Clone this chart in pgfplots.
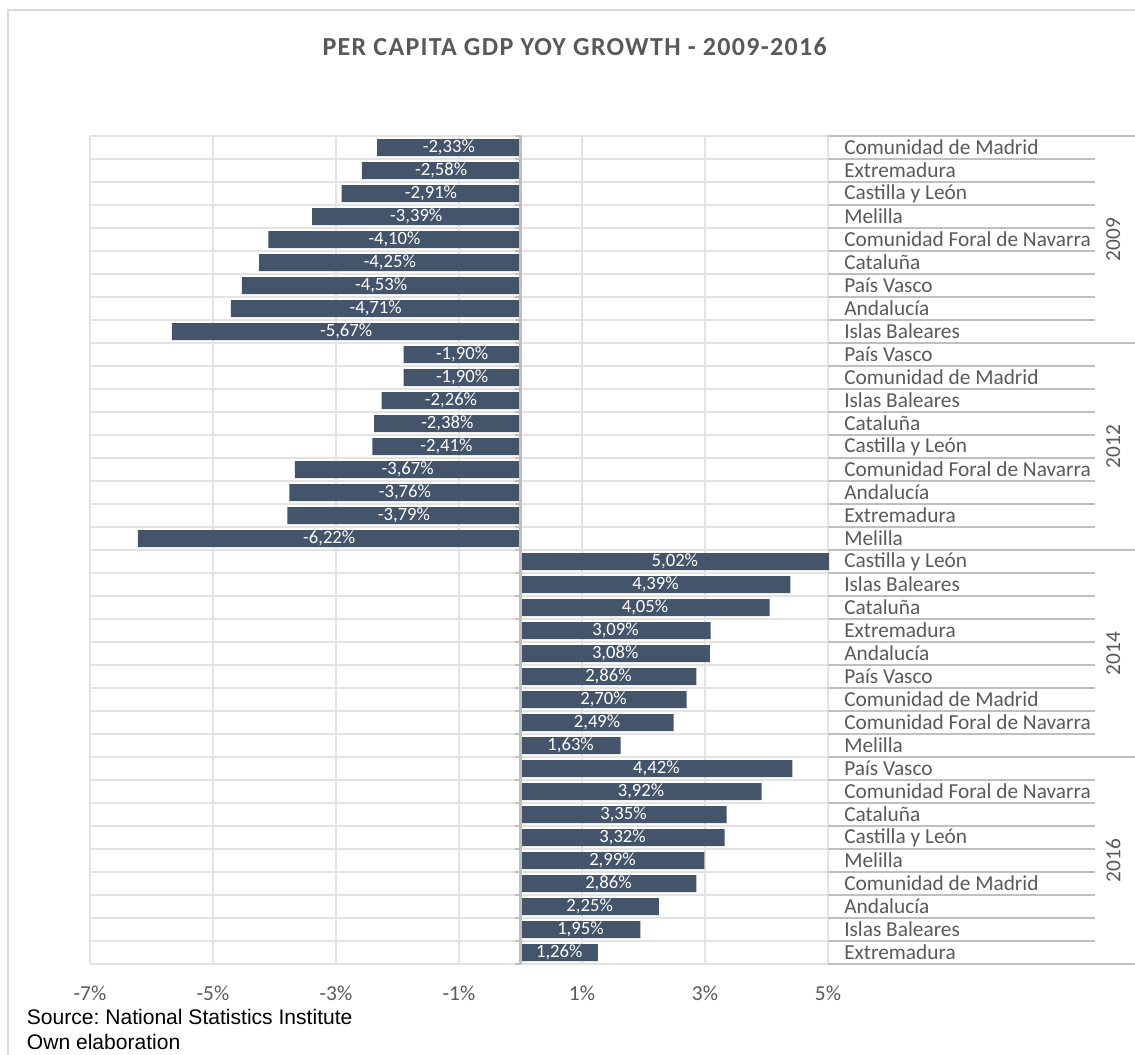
\documentclass[border=0pt]{standalone}
\usepackage{fontspec}
\setmainfont{Carlito}
\newfontfamily\arialf{Liberation Sans}
\usepackage{pgfplots}
\usepackage{pgfplotstable}
\pgfplotsset{compat=1.18}
\frenchspacing
\definecolor{barc}{HTML}{44546A}
\definecolor{txt}{HTML}{595959}
\definecolor{gridc}{HTML}{E3E3E3}
\definecolor{axl}{HTML}{BFBFBF}
\definecolor{frame}{HTML}{D9D9D9}

\pgfplotstableread{
r v
1 -2.33
2 -2.58
3 -2.91
4 -3.39
5 -4.10
6 -4.25
7 -4.53
8 -4.71
9 -5.67
10 -1.90
11 -1.90
12 -2.26
13 -2.38
14 -2.41
15 -3.67
16 -3.76
17 -3.79
18 -6.22
19 5.02
20 4.39
21 4.05
22 3.09
23 3.08
24 2.86
25 2.70
26 2.49
27 1.63
28 4.42
29 3.92
30 3.35
31 3.32
32 2.99
33 2.86
34 2.25
35 1.95
36 1.26
}\data

\begin{document}
\begin{tikzpicture}
\path[use as bounding box] (0,0) rectangle (851.25pt,-791.25pt);
\draw[frame, line width=1.5pt] (6pt,-791.25pt) |- (851.25pt,-7.5pt);
\node[text=txt, font=\fontsize{19.5}{22}\selectfont\bfseries\addfontfeatures{LetterSpace=5}] at (431pt,-35.25pt) {PER CAPITA GDP YOY GROWTH - 2009-2016};
\node[anchor=west, inner sep=0pt, font=\arialf\fontsize{15.8}{18}\selectfont] at (20pt,-763pt) {Source: National Statistics Institute};
\node[anchor=west, inner sep=0pt, font=\arialf\fontsize{15.8}{18}\selectfont] at (20pt,-781.5pt) {Own elaboration};
\begin{axis}[
  at={(67.5pt,-102pt)}, anchor=north west,
  scale only axis, width=553.5pt, height=621pt,
  xmin=-7, xmax=5, ymin=0.5, ymax=36.5, y dir=reverse,
  clip=false,
  axis line style={draw=none},
  /pgf/number format/assume math mode=true,
  xtick={-7,-5,-3,-1,1,3,5},
  xticklabel={\pgfmathprintnumber{\tick}\%},
  xticklabel style={text=txt, font=\fontsize{16}{18}\selectfont, yshift=-13pt},
  xmajorgrids, major grid style={gridc, line width=1.2pt},
  ytick={1,...,36},
  yticklabel pos=right,
  yticklabels={Comunidad de Madrid,Extremadura,Castilla y León,Melilla,Comunidad Foral de Navarra,Cataluña,País Vasco,Andalucía,Islas Baleares,
    País Vasco,Comunidad de Madrid,Islas Baleares,Cataluña,Castilla y León,Comunidad Foral de Navarra,Andalucía,Extremadura,Melilla,
    Castilla y León,Islas Baleares,Cataluña,Extremadura,Andalucía,País Vasco,Comunidad de Madrid,Comunidad Foral de Navarra,Melilla,
    País Vasco,Comunidad Foral de Navarra,Cataluña,Castilla y León,Melilla,Comunidad de Madrid,Andalucía,Islas Baleares,Extremadura},
  yticklabel style={anchor=west, inner sep=0pt, xshift=12pt, text=txt, font=\fontsize{16}{18}\selectfont},
  minor ytick={0.5,1.5,...,36.5},
  yminorgrids, minor grid style={gridc, line width=1.2pt},
  tick style={draw=none},
]
\addplot[xbar, bar width=12.75pt, fill=barc, draw=none] table[x=v, y=r] {\data};
\addplot[draw=none, mark=none, nodes near coords={\pgfmathprintnumber[fixed, fixed zerofill, precision=2, use comma]{\pgfplotspointmeta}\%},
  point meta=explicit, nodes near coords align=center,
  every node near coord/.style={text=white, font=\fontsize{14}{16}\selectfont, anchor=center, inner sep=0pt}]
  table[x expr=\thisrow{v}/2, y=r, meta=v] {\data};
\draw[axl, line width=2pt] (axis cs:0,0.5) -- (axis cs:0,36.5);
\pgfplotsinvokeforeach{0,...,36}{
  \draw[axl, line width=1.2pt] (axis cs:0,#1.5) -- ++(-4pt,0pt);
  \draw[axl, line width=1.5pt] (axis cs:5,#1.5) -- (axis cs:9.34,#1.5);
}
\pgfplotsinvokeforeach{0,9,18,27,36}{
  \draw[axl, line width=1.5pt] (axis cs:5,#1.5) -- (axis cs:10,#1.5);
}
\node[rotate=90, text=txt, font=\fontsize{16}{18}\selectfont] at (axis cs:9.64,5) {2009};
\node[rotate=90, text=txt, font=\fontsize{16}{18}\selectfont] at (axis cs:9.64,14) {2012};
\node[rotate=90, text=txt, font=\fontsize{16}{18}\selectfont] at (axis cs:9.64,23) {2014};
\node[rotate=90, text=txt, font=\fontsize{16}{18}\selectfont] at (axis cs:9.64,32) {2016};
\end{axis}
\end{tikzpicture}
\end{document}
